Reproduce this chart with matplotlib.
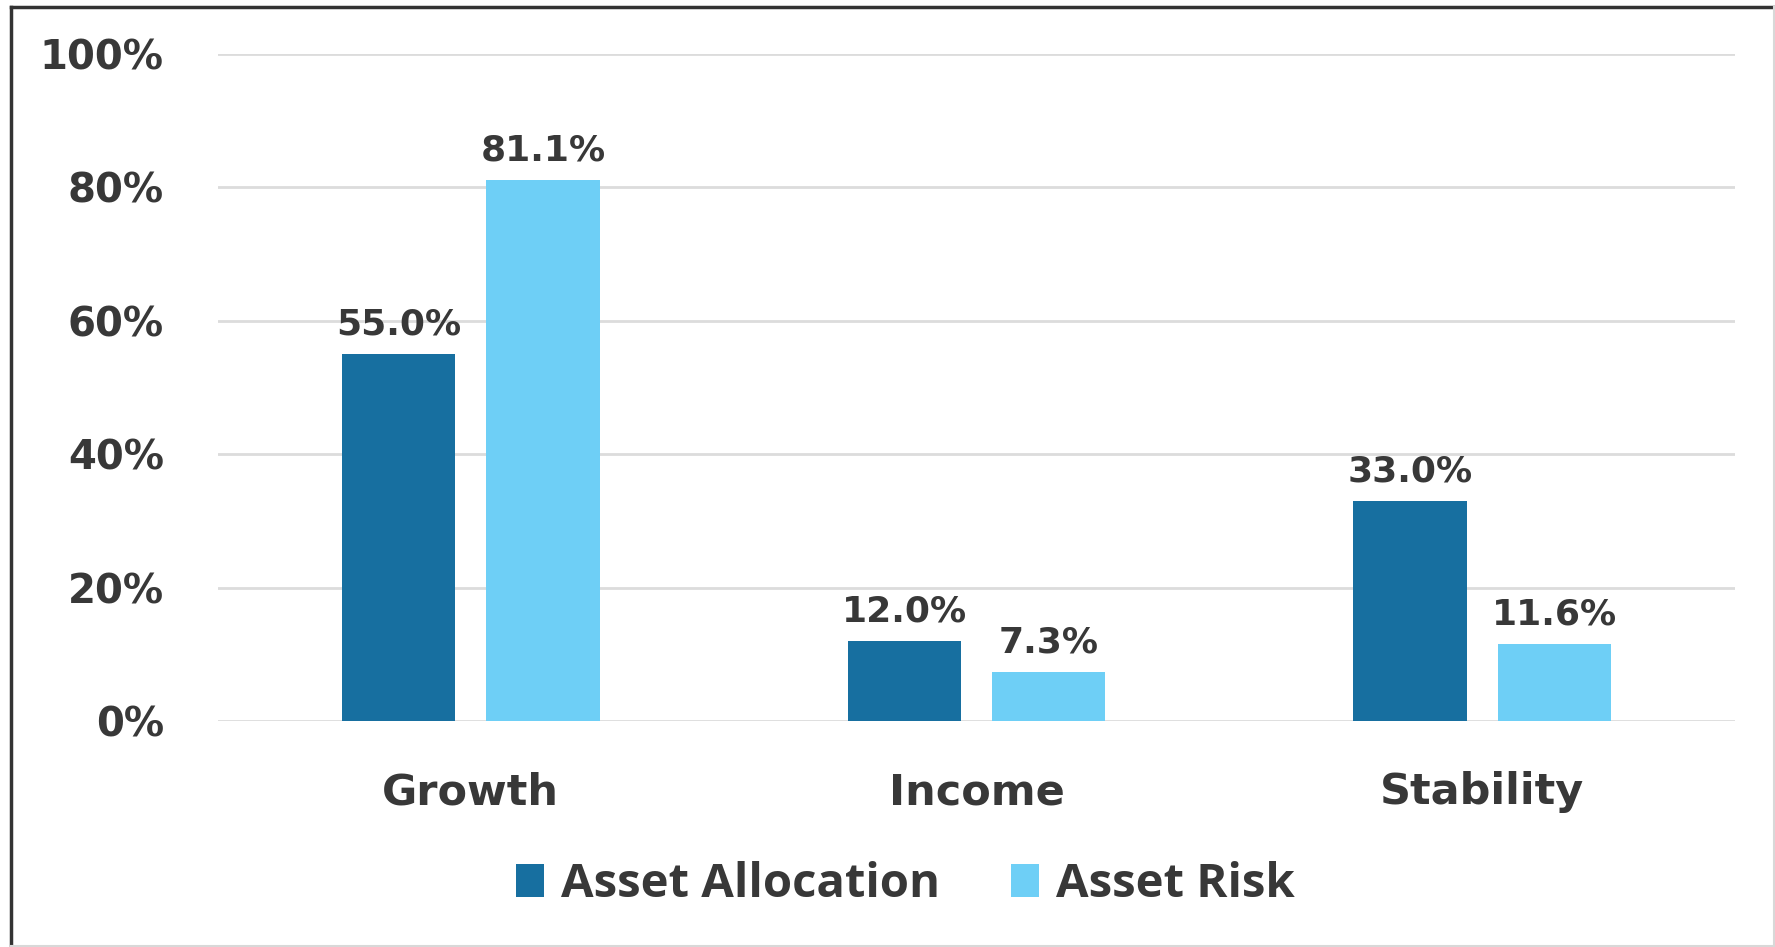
import matplotlib
matplotlib.use("Agg")
import matplotlib.pyplot as plt
from matplotlib.lines import Line2D
import numpy as np

# data
categories = ["Growth", "Income", "Stability"]
allocation = [55.0, 12.0, 33.0]
risk = [81.1, 7.3, 11.6]
series_names = ["Asset Allocation", "Asset Risk"]
yticks = [0, 20, 40, 60, 80, 100]

dark_blue = "#176fa0"
light_blue = "#6ecff6"
text_col = "#383838"

plt.rcParams["font.family"] = ["DejaVu Sans"]

fig = plt.figure(figsize=(17.75, 9.47), dpi=100)
ax = fig.add_axes([0.1228, 0.2386, 0.8547, 0.7044])

x = np.arange(len(categories))
w = 0.224
off = 0.143
b1 = ax.bar(x - off, allocation, w, color=dark_blue, label=series_names[0], zorder=3)
b2 = ax.bar(x + off, risk, w, color=light_blue, label=series_names[1], zorder=3)

for bars in (b1, b2):
    for r in bars:
        h = r.get_height()
        ax.annotate(f"{h:.1f}%", (r.get_x() + r.get_width() / 2, h),
                    xytext=(0, 14), textcoords="offset points",
                    ha="center", va="baseline", fontsize=26,
                    fontweight="bold", color=text_col)

ax.set_xlim(-0.5, 2.5)
ax.set_ylim(0, 100)
ax.set_yticks(yticks)
ax.set_yticklabels([f"{t}%" for t in yticks], fontsize=29, fontweight="bold", color=text_col)
ax.set_xticks(x)
ax.set_xticklabels(categories, fontsize=31, fontweight="bold", color=text_col)
ax.tick_params(axis="y", length=0, pad=39)
ax.tick_params(axis="x", length=0, pad=36)
ax.grid(axis="y", color="#dcdcdc", lw=2, zorder=0)
for s in ax.spines.values():
    s.set_visible(False)

fig.legend(loc="center", bbox_to_anchor=(0.51, 0.066), ncol=2, frameon=False,
           prop={"family": "Open Sans", "size": 34, "weight": "bold"}, labelcolor=text_col,
           handlelength=0.6, handleheight=0.7, handletextpad=0.35, columnspacing=1.5)

# outer frame: dark left/top, light right/bottom
fig.add_artist(Line2D([0.0062, 0.0062], [0.0, 0.993], transform=fig.transFigure, color="#333333", lw=2.5))
fig.add_artist(Line2D([0.0062, 1.0], [0.993, 0.993], transform=fig.transFigure, color="#333333", lw=2.5))
fig.add_artist(Line2D([0.9995, 0.9995], [0.0, 0.993], transform=fig.transFigure, color="#d8d8d8", lw=1.5))
fig.add_artist(Line2D([0.0062, 1.0], [0.0012, 0.0012], transform=fig.transFigure, color="#d8d8d8", lw=1.5))

fig.savefig("out.png", dpi=100)
